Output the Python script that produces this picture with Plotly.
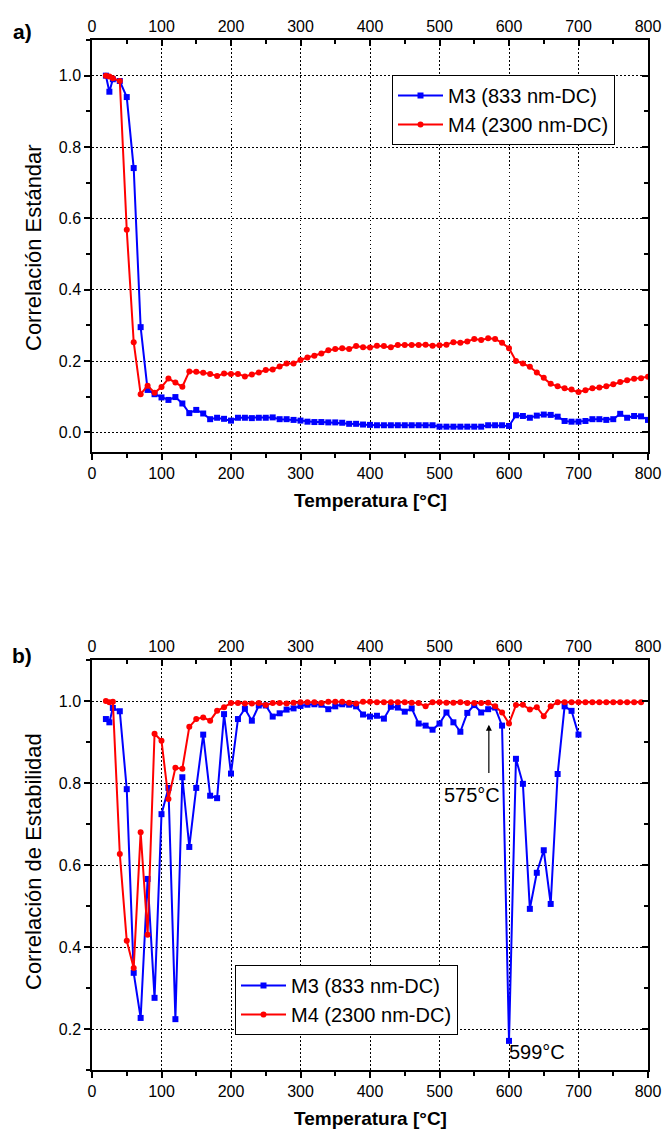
import plotly.graph_objects as go

# ---------------- data ----------------
temp_a = [20, 25, 30, 40, 50, 60, 70, 80, 90, 100, 110, 120, 130, 140, 150, 160, 170, 180, 190, 200,
          210, 220, 230, 240, 250, 260, 270, 280, 290, 300, 310, 320, 330, 340, 350, 360, 370, 380, 390, 400,
          410, 420, 430, 440, 450, 460, 470, 480, 490, 500, 510, 520, 530, 540, 550, 560, 570, 580, 590, 600,
          610, 620, 630, 640, 650, 660, 670, 680, 690, 700, 710, 720, 730, 740, 750, 760, 770, 780, 790, 800]

m3_std = [1.0, 0.955, 0.99, 0.985, 0.94, 0.741, 0.295, 0.119, 0.107, 0.098, 0.091, 0.099, 0.081, 0.054, 0.063,
          0.053, 0.037, 0.041, 0.038, 0.033, 0.041, 0.041, 0.040, 0.041, 0.041, 0.042, 0.037, 0.037, 0.035, 0.033,
          0.030, 0.029, 0.029, 0.028, 0.028, 0.027, 0.024, 0.024, 0.022, 0.021, 0.020, 0.020, 0.020, 0.020, 0.020,
          0.020, 0.020, 0.020, 0.020, 0.016, 0.016, 0.016, 0.016, 0.016, 0.016, 0.016, 0.020, 0.020, 0.020, 0.018,
          0.048, 0.046, 0.041, 0.047, 0.050, 0.049, 0.044, 0.032, 0.030, 0.030, 0.032, 0.037, 0.037, 0.035, 0.037,
          0.052, 0.041, 0.046, 0.045, 0.035]

m4_std = [1.0, 0.998, 0.993, 0.985, 0.568, 0.253, 0.107, 0.131, 0.111, 0.127, 0.151, 0.140, 0.128, 0.171, 0.170,
          0.167, 0.164, 0.158, 0.165, 0.164, 0.164, 0.157, 0.162, 0.168, 0.175, 0.176, 0.185, 0.193, 0.193, 0.203,
          0.210, 0.215, 0.221, 0.230, 0.234, 0.236, 0.234, 0.242, 0.239, 0.238, 0.243, 0.242, 0.239, 0.245, 0.245,
          0.245, 0.245, 0.246, 0.243, 0.244, 0.246, 0.253, 0.251, 0.255, 0.262, 0.259, 0.264, 0.262, 0.251, 0.236,
          0.200, 0.193, 0.184, 0.168, 0.153, 0.136, 0.129, 0.124, 0.120, 0.113, 0.118, 0.124, 0.126, 0.129, 0.135,
          0.141, 0.146, 0.150, 0.152, 0.156]

temp_b_m3 = [20, 25, 30, 40, 50, 60, 70, 80, 90, 100, 110, 120, 130, 140, 150, 160, 170, 180, 190, 200,
             210, 220, 230, 240, 250, 260, 270, 280, 290, 300, 310, 320, 330, 340, 350, 360, 370, 380, 390, 400,
             410, 420, 430, 440, 450, 460, 470, 480, 490, 500, 510, 520, 530, 540, 550, 560, 570, 580, 590, 600,
             610, 620, 630, 640, 650, 660, 670, 680, 690, 700]

m3_stab = [0.956, 0.948, 0.983, 0.975, 0.785, 0.337, 0.227, 0.566, 0.276, 0.724, 0.788, 0.224, 0.814, 0.644,
           0.788, 0.918, 0.769, 0.763, 0.968, 0.823, 0.956, 0.981, 0.952, 0.989, 0.989, 0.962, 0.970, 0.979,
           0.982, 0.988, 0.991, 0.992, 0.991, 0.980, 0.987, 0.992, 0.991, 0.987, 0.967, 0.962, 0.964, 0.957,
           0.986, 0.984, 0.974, 0.982, 0.945, 0.940, 0.930, 0.945, 0.972, 0.948, 0.925, 0.971, 0.990, 0.972,
           0.980, 0.984, 0.940, 0.171, 0.859, 0.798, 0.493, 0.581, 0.636, 0.505, 0.822, 0.987, 0.976, 0.918]

temp_b_m4 = [20, 25, 30, 40, 50, 60, 70, 80, 90, 100, 110, 120, 130, 140, 150, 160, 170, 180, 190, 200,
             210, 220, 230, 240, 250, 260, 270, 280, 290, 300, 310, 320, 330, 340, 350, 360, 370, 380, 390, 400,
             410, 420, 430, 440, 450, 460, 470, 480, 490, 500, 510, 520, 530, 540, 550, 560, 570, 580, 590, 600,
             610, 620, 630, 640, 650, 660, 670, 680, 690, 700, 710, 720, 730, 740, 750, 760, 770, 780, 790]

m4_stab = [1.0, 0.997, 0.998, 0.627, 0.415, 0.349, 0.680, 0.430, 0.920, 0.903, 0.761, 0.837, 0.835, 0.937,
           0.956, 0.960, 0.952, 0.976, 0.985, 0.995, 0.995, 0.994, 0.994, 0.995, 0.990, 0.995, 0.995, 0.994,
           0.996, 0.997, 0.997, 0.997, 0.995, 0.998, 0.998, 0.998, 0.996, 0.994, 0.998, 0.998, 0.997, 0.997,
           0.997, 0.997, 0.997, 0.996, 0.995, 0.987, 0.997, 0.997, 0.996, 0.996, 0.997, 0.995, 0.995, 0.995,
           0.996, 0.987, 0.972, 0.945, 0.990, 0.991, 0.979, 0.985, 0.963, 0.987, 0.997, 0.997, 0.997, 0.997,
           0.997, 0.997, 0.997, 0.997, 0.997, 0.997, 0.997, 0.997, 0.997]

name_m3 = "M3 (833 nm-DC)"
name_m4 = "M4 (2300 nm-DC)"
x_ticks = [0, 100, 200, 300, 400, 500, 600, 700, 800]

# ---------------- figure ----------------
BLUE = "#0000FF"
RED = "#FF0000"
FONT = "Arial"

fig = go.Figure()
# M3 on the bottom/left axes, M4 on the top/right axes (same ranges, so both share the same scale)
fig.add_trace(go.Scatter(x=temp_a, y=m4_std, name=name_m4, mode="lines+markers",
                         line=dict(color=RED, width=2), marker=dict(symbol="circle", size=6, color=RED),
                         xaxis="x2", yaxis="y2", legend="legend", legendrank=2))
fig.add_trace(go.Scatter(x=temp_a, y=m3_std, name=name_m3, mode="lines+markers",
                         line=dict(color=BLUE, width=2), marker=dict(symbol="square", size=6, color=BLUE),
                         xaxis="x", yaxis="y", legend="legend", legendrank=1))
fig.add_trace(go.Scatter(x=temp_b_m4, y=m4_stab, name=name_m4, mode="lines+markers",
                         line=dict(color=RED, width=2), marker=dict(symbol="circle", size=6, color=RED),
                         xaxis="x4", yaxis="y4", legend="legend2", legendrank=2))
fig.add_trace(go.Scatter(x=temp_b_m3, y=m3_stab, name=name_m3, mode="lines+markers",
                         line=dict(color=BLUE, width=2), marker=dict(symbol="square", size=6, color=BLUE),
                         xaxis="x3", yaxis="y3", legend="legend2", legendrank=1))

H = 1132.0
def fy(py):
    return 1 - py / H

top_dom = [fy(452), fy(40)]
bot_dom = [fy(1070), fy(660)]

tickfont = dict(family=FONT, size=16, color="black")
DASH = "1.5px,2.5px"

def xmain(anchor):
    return dict(domain=[0, 1], anchor=anchor, range=[0, 800], tickvals=x_ticks, ticks="outside",
                ticklen=6, tickwidth=1.5, tickcolor="black", showline=True, linecolor="black",
                linewidth=1.5, tickfont=tickfont, zeroline=False,
                showgrid=True, gridcolor="black", griddash=DASH, gridwidth=1,
                minor=dict(dtick=50, tick0=0, ticks="outside", ticklen=4, tickwidth=1.5, tickcolor="black",
                           showgrid=False))

def xtop(over, anchor):
    return dict(overlaying=over, side="top", anchor=anchor, range=[0, 800], tickvals=x_ticks,
                ticks="inside", ticklen=6, tickwidth=1.5, tickcolor="black", showline=True,
                linecolor="black", linewidth=1.5, tickfont=tickfont, showgrid=False, zeroline=False,
                minor=dict(dtick=50, tick0=0, ticks="inside", ticklen=4, tickwidth=1.5, tickcolor="black",
                           showgrid=False))

def ymain(anchor, dom, rng):
    return dict(domain=dom, anchor=anchor, range=rng, dtick=0.2, tick0=0, tickformat=".1f",
                ticks="outside", ticklen=6, tickwidth=1.5, tickcolor="black", showline=True,
                linecolor="black", linewidth=1.5, tickfont=tickfont, zeroline=False,
                showgrid=True, gridcolor="black", griddash=DASH, gridwidth=1,
                minor=dict(dtick=0.1, tick0=0, ticks="outside", ticklen=4, tickwidth=1.5, tickcolor="black",
                           showgrid=False))

def yright(over, anchor, rng):
    return dict(overlaying=over, side="right", anchor=anchor, range=rng, dtick=0.2, tick0=0,
                ticks="inside", ticklen=6, tickwidth=1.5, tickcolor="black", showline=True,
                linecolor="black", linewidth=1.5, showticklabels=False, showgrid=False, zeroline=False,
                minor=dict(dtick=0.1, tick0=0, ticks="inside", ticklen=4, tickwidth=1.5, tickcolor="black",
                           showgrid=False))

rng_a = [-0.055, 1.1]
rng_b = [0.1, 1.1]

fig.update_layout(
    width=665, height=1132, margin=dict(l=92, r=17, t=0, b=0),
    paper_bgcolor="white", plot_bgcolor="white",
    font=dict(family=FONT, color="black"),
    xaxis=xmain("y"), xaxis2=xtop("x", "y"),
    yaxis=ymain("x", top_dom, rng_a), yaxis2=yright("y", "x", rng_a),
    xaxis3=xmain("y3"), xaxis4=xtop("x3", "y3"),
    yaxis3=ymain("x3", bot_dom, rng_b), yaxis4=yright("y3", "x3", rng_b),
    legend=dict(x=(392 - 92) / 556, y=fy(75), xanchor="left", yanchor="top",
                bordercolor="black", borderwidth=1, bgcolor="white", traceorder="normal",
                font=dict(family=FONT, size=20), tracegroupgap=0, itemwidth=45),
    legend2=dict(x=(235 - 92) / 556, y=fy(965), xanchor="left", yanchor="top",
                 bordercolor="black", borderwidth=1, bgcolor="white", traceorder="normal",
                 font=dict(family=FONT, size=20), tracegroupgap=0, itemwidth=45),
    showlegend=True,
)

ann = []
ann.append(dict(text="<b>a)</b>", x=(22 - 92) / 556, y=fy(32), xref="paper", yref="paper", showarrow=False,
                font=dict(family=FONT, size=21), xanchor="center", yanchor="middle"))
ann.append(dict(text="<b>b)</b>", x=(22 - 92) / 556, y=fy(655), xref="paper", yref="paper", showarrow=False,
                font=dict(family=FONT, size=21), xanchor="center", yanchor="middle"))
ann.append(dict(text="Correlación Estándar", x=(33 - 92) / 556, y=fy(248), xref="paper", yref="paper",
                showarrow=False, textangle=-90, font=dict(family=FONT, size=22),
                xanchor="center", yanchor="middle"))
ann.append(dict(text="Correlación de Estabilidad", x=(33 - 92) / 556, y=fy(862), xref="paper", yref="paper",
                showarrow=False, textangle=-90, font=dict(family=FONT, size=22),
                xanchor="center", yanchor="middle"))
ann.append(dict(text="<b>Temperatura [°C]</b>", x=0.5, y=fy(500), xref="paper", yref="paper",
                showarrow=False, font=dict(family=FONT, size=19), xanchor="center", yanchor="middle"))
ann.append(dict(text="<b>Temperatura [°C]</b>", x=0.5, y=fy(1118), xref="paper", yref="paper",
                showarrow=False, font=dict(family=FONT, size=19), xanchor="center", yanchor="middle"))
ann.append(dict(text="575°C", x=546.5, y=0.771, xref="x3", yref="y3", showarrow=False,
                font=dict(family=FONT, size=20), xanchor="center", yanchor="middle"))
ann.append(dict(text="", x=571, y=0.942, xref="x3", yref="y3", ax=571, ay=0.821, axref="x3", ayref="y3",
                showarrow=True, arrowhead=2, arrowsize=1, arrowwidth=1.2, arrowcolor="black"))
ann.append(dict(text="599°C", x=639.9, y=0.1446, xref="x3", yref="y3", showarrow=False,
                font=dict(family=FONT, size=20), xanchor="center", yanchor="middle"))
fig.update_layout(annotations=ann)

fig.write_html("out.html")
